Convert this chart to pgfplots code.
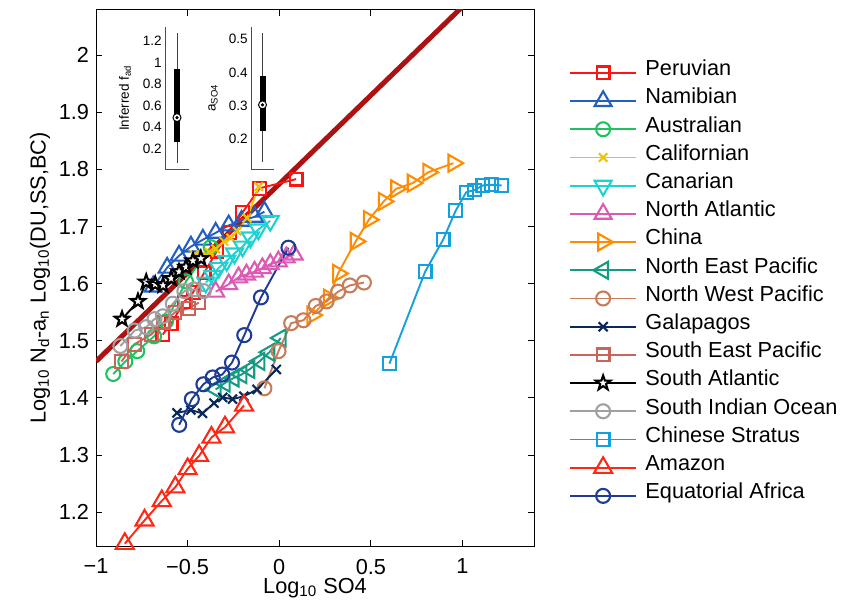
\documentclass[border=0pt]{standalone}
\usepackage{fontspec}
\setmainfont{Liberation Sans}
\usepackage{pgfplots}
\pgfplotsset{compat=1.18}

\definecolor{cfit}{RGB}{172,18,18}
\definecolor{cPeru}{RGB}{255,20,20}
\definecolor{cNami}{RGB}{35,95,190}
\definecolor{cAust}{RGB}{30,195,95}
\definecolor{cCali}{RGB}{240,195,0}
\definecolor{cCana}{RGB}{30,210,210}
\definecolor{cNAtl}{RGB}{220,90,180}
\definecolor{cChin}{RGB}{255,140,0}
\definecolor{cNEP}{RGB}{20,155,130}
\definecolor{cNWP}{RGB}{200,125,90}
\definecolor{cGala}{RGB}{10,40,90}
\definecolor{cSEP}{RGB}{200,100,90}
\definecolor{cSAtl}{RGB}{0,0,0}
\definecolor{cSIO}{RGB}{160,160,160}
\definecolor{cCStr}{RGB}{20,160,220}
\definecolor{cAmaz}{RGB}{255,40,20}
\definecolor{cEqAf}{RGB}{30,60,150}

% five-pointed star outline
\pgfdeclareplotmark{pentagram}{%
  \pgfpathmoveto{\pgfpointpolar{90}{\pgfplotmarksize}}%
  \pgfpathlineto{\pgfpointpolar{126}{0.4*\pgfplotmarksize}}%
  \pgfpathlineto{\pgfpointpolar{162}{\pgfplotmarksize}}%
  \pgfpathlineto{\pgfpointpolar{198}{0.4*\pgfplotmarksize}}%
  \pgfpathlineto{\pgfpointpolar{234}{\pgfplotmarksize}}%
  \pgfpathlineto{\pgfpointpolar{270}{0.4*\pgfplotmarksize}}%
  \pgfpathlineto{\pgfpointpolar{306}{\pgfplotmarksize}}%
  \pgfpathlineto{\pgfpointpolar{342}{0.4*\pgfplotmarksize}}%
  \pgfpathlineto{\pgfpointpolar{18}{\pgfplotmarksize}}%
  \pgfpathlineto{\pgfpointpolar{54}{0.4*\pgfplotmarksize}}%
  \pgfpathclose\pgfusepathqfillstroke}

\pgfplotsset{
  ser/.style={color=#1, line width=0.95bp, mark options={solid, fill=white, line width=1.05bp}},
  inset/.style={anchor=south west, scale only axis, height=71bp,
    xmin=0.5, xmax=1.5, axis x line*=bottom, axis y line*=left,
    axis line style={-, line width=0.4bp, black!70}, xtick=\empty,
    major tick length=0bp, /pgf/number format/assume math mode=true,
    ticklabel style={font=\fontsize{6.8}{8}\selectfont},
    yticklabel style={inner sep=1.5bp},
    label style={font=\fontsize{6.8}{8}\selectfont}},
}

\begin{document}
\begin{tikzpicture}
\useasboundingbox (-48bp,-30bp) rectangle (378bp,273bp);
\begin{axis}[
  at={(0,0)}, anchor=south west,
  width=219bp, height=268bp, scale only axis,
  xmin=-1, xmax=1.39, ymin=1.141, ymax=2.079,
  xtick={-1,-0.5,0,0.5,1},
  xticklabels={−1,−0.5,0,0.5,1},
  ytick={1.2,1.3,1.4,1.5,1.6,1.7,1.8,1.9,2},
  yticklabels={1.2,1.3,1.4,1.5,1.6,1.7,1.8,1.9,2},
  tick align=inside, major tick length=3bp,
  axis line style={line width=0.5bp},
  every tick/.style={black, line width=0.5bp},
  /pgf/number format/assume math mode=true,
  ticklabel style={font=\fontsize{10.9}{13}\selectfont},
  xticklabel style={yshift=-3bp},
  label style={font=\fontsize{10.9}{13}\selectfont},
  xlabel={Log\textsubscript{10} SO4},
  xlabel style={at={(axis description cs:0.5,-0.078)}, anchor=center},
  ylabel={Log\textsubscript{10} N\textsubscript{d}-a\textsubscript{n} Log\textsubscript{10}(DU,SS,BC)},
  ylabel style={at={(axis description cs:-0.1279,0.5)}, anchor=center},
  legend cell align=left,
  legend image code/.code={\draw[mark repeat=2,mark phase=2,#1] plot coordinates {(0bp,0bp) (16.5bp,0bp) (33bp,0bp)};},
  legend style={draw=none, fill=none, at={(rel axis cs:1,1)}, anchor=north west,
    xshift=14.4bp, yshift=-22.2bp, font=\fontsize{10.9}{13}\selectfont,
    row sep=0bp, column sep=4.2bp,
    nodes={inner sep=0pt, text height=8.5bp, text depth=5.6bp}},
]
\addplot[forget plot, color=cfit, line width=2.5bp] coordinates {(-1,1.464) (1.0,2.085)};

\addplot[ser=cPeru, mark=square, mark size=3.2bp] coordinates {
(-0.636,1.511) (-0.59,1.530) (-0.52,1.568) (-0.47,1.585) (-0.41,1.619)
(-0.34,1.657) (-0.27,1.690) (-0.202,1.724) (-0.107,1.767) (0.092,1.783)};
\addlegendentry{Peruvian}
\addplot[ser=cNami, mark=triangle, mark size=4.9bp] coordinates {
(-0.688,1.595) (-0.612,1.628) (-0.547,1.649) (-0.482,1.665) (-0.417,1.677)
(-0.347,1.689) (-0.276,1.702) (-0.206,1.710) (-0.135,1.717) (-0.081,1.726)};
\addlegendentry{Namibian}
\addplot[ser=cAust, mark=o, mark size=3.5bp] coordinates {
(-0.906,1.442) (-0.840,1.464) (-0.775,1.482) (-0.683,1.508) (-0.618,1.534)
(-0.509,1.604) (-0.374,1.664)};
\addlegendentry{Australian}
\addplot[ser=cCali, mark=x, mark size=3bp] coordinates {
(-0.464,1.651) (-0.428,1.648) (-0.383,1.655) (-0.347,1.661) (-0.302,1.674)
(-0.265,1.680) (-0.229,1.692) (-0.175,1.715) (-0.112,1.770)};
\addlegendentry{Californian}
\addplot[ser=cCana, mark=triangle, mark size=4.9bp, every mark/.append style={rotate=180}] coordinates {
(-0.401,1.602) (-0.363,1.614) (-0.330,1.628) (-0.287,1.640) (-0.244,1.653)
(-0.200,1.665) (-0.157,1.681) (-0.114,1.695) (-0.049,1.710)};
\addlegendentry{Canarian}
\addplot[ser=cNAtl, mark=triangle, mark size=4.9bp] coordinates {
(-0.347,1.586) (-0.276,1.599) (-0.222,1.611) (-0.179,1.616) (-0.135,1.621)
(-0.092,1.627) (-0.049,1.634) (-0.005,1.639) (0.038,1.646) (0.081,1.651)};
\addlegendentry{North Atlantic}
\addplot[ser=cChin, mark=triangle, mark size=4.9bp, every mark/.append style={rotate=-90}] coordinates {
(0.18,1.545) (0.27,1.575) (0.321,1.618) (0.417,1.674) (0.489,1.712)
(0.570,1.744) (0.638,1.766) (0.728,1.776) (0.813,1.795) (0.950,1.811)};
\addlegendentry{China}
\addplot[ser=cNEP, mark=triangle, mark size=4.9bp, every mark/.append style={rotate=90}] coordinates {
(-0.347,1.415) (-0.298,1.426) (-0.249,1.435) (-0.206,1.441) (-0.163,1.450)
(-0.108,1.464) (-0.054,1.480) (0.008,1.505)};
\addlegendentry{North East Pacific}
\addplot[ser=cNWP, mark=o, mark size=3.5bp] coordinates {
(-0.081,1.417) (-0.004,1.482) (0.065,1.531) (0.132,1.536) (0.199,1.561)
(0.258,1.569) (0.321,1.586) (0.385,1.597) (0.462,1.602)};
\addlegendentry{North West Pacific}
\addplot[ser=cGala, mark=x, mark size=3.2bp] coordinates {
(-0.558,1.374) (-0.482,1.379) (-0.419,1.373) (-0.356,1.391) (-0.309,1.401)
(-0.255,1.398) (-0.193,1.403) (-0.121,1.415) (-0.016,1.450)};
\addlegendentry{Galapagos}
\addplot[ser=cSEP, mark=square, mark size=3.2bp] coordinates {
(-0.861,1.464) (-0.791,1.494) (-0.699,1.511) (-0.634,1.532) (-0.569,1.550)
(-0.493,1.557) (-0.439,1.567)};
\addlegendentry{South East Pacific}
\addplot[ser=cSAtl, mark=pentagram, mark size=3.8bp] coordinates {
(-0.858,1.538) (-0.771,1.569) (-0.726,1.603) (-0.677,1.599) (-0.634,1.597)
(-0.590,1.609) (-0.547,1.621) (-0.509,1.629) (-0.471,1.640) (-0.428,1.644)};
\addlegendentry{South Atlantic}
\addplot[ser=cSIO, mark=o, mark size=3.5bp] coordinates {
(-0.867,1.491) (-0.789,1.518) (-0.726,1.524) (-0.681,1.538) (-0.635,1.543)
(-0.581,1.565) (-0.518,1.587) (-0.466,1.590) (-0.412,1.587)};
\addlegendentry{South Indian Ocean}
\addplot[ser=cCStr, mark=square, mark size=3.2bp] coordinates {
(0.601,1.460) (0.796,1.621) (0.894,1.677) (0.963,1.728) (1.020,1.760)
(1.066,1.764) (1.111,1.772) (1.158,1.773) (1.213,1.772)};
\addlegendentry{Chinese Stratus}
\addplot[ser=cAmaz, mark=triangle, mark size=5.2bp] coordinates {
(-0.843,1.145) (-0.735,1.186) (-0.641,1.220) (-0.567,1.244) (-0.500,1.276)
(-0.437,1.299) (-0.370,1.331) (-0.296,1.349) (-0.192,1.387)};
\addlegendentry{Amazon}
\addplot[ser=cEqAf, mark=o, mark size=3.5bp] coordinates {
(-0.546,1.353) (-0.477,1.398) (-0.414,1.424) (-0.363,1.436) (-0.311,1.441)
(-0.258,1.462) (-0.191,1.510) (-0.100,1.576) (0.050,1.663)};
\addlegendentry{Equatorial Africa}
\end{axis}

% inset: inferred f_ad
\begin{axis}[inset, at={(34.5bp,188.5bp)}, width=12bp,
  ymin=0.015, ymax=1.327,
  ytick={0.2,0.4,0.6,0.8,1,1.2}, yticklabels={0.2,0.4,0.6,0.8,1,1.2},
  ylabel={Inferred f\textsubscript{ad}},
  ylabel style={at={(axis description cs:-1.667,0.5)}, anchor=center}]
\addplot[black!75, line width=0.5bp] coordinates {(1,0.07) (1,1.27)};
\addplot[black, line width=3bp] coordinates {(1,0.26) (1,0.94)};
\addplot[only marks, mark=*, mark size=2bp, mark options={fill=white, draw=black, line width=0.5bp}] coordinates {(1,0.49)};
\addplot[only marks, mark=*, mark size=0.6bp, black] coordinates {(1,0.49)};
\end{axis}

% inset: a_SO4
\begin{axis}[inset, at={(77.5bp,188.5bp)}, width=11.5bp,
  ymin=0.110, ymax=0.537,
  ytick={0.2,0.3,0.4,0.5}, yticklabels={0.2,0.3,0.4,0.5},
  ylabel={a\textsubscript{SO4}},
  ylabel style={at={(axis description cs:-1.652,0.5)}, anchor=center}]
\addplot[black!75, line width=0.5bp] coordinates {(1,0.13) (1,0.52)};
\addplot[black, line width=3bp] coordinates {(1,0.224) (1,0.39)};
\addplot[only marks, mark=*, mark size=2bp, mark options={fill=white, draw=black, line width=0.5bp}] coordinates {(1,0.303)};
\addplot[only marks, mark=*, mark size=0.6bp, black] coordinates {(1,0.303)};
\end{axis}
\end{tikzpicture}
\end{document}
